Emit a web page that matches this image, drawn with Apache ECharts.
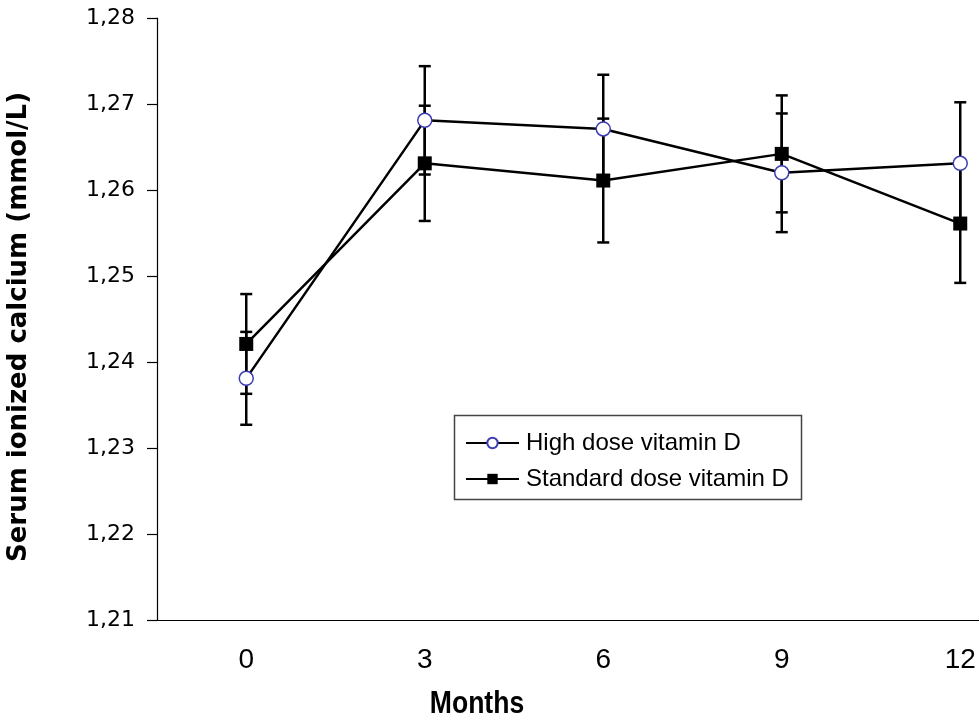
<!DOCTYPE html>
<html>
<head>
<meta charset="utf-8">
<script src="https://cdn.jsdelivr.net/npm/echarts@6/dist/echarts.min.js"></script>
<style>html,body{margin:0;padding:0;background:#fff}#c{width:979px;height:715px}</style>
</head>
<body>
<div id="c"></div>
<script>
var months = ['0', '3', '6', '9', '12'];
var yTicks = { min: 1.21, max: 1.28, interval: 0.01 };
var highDose = [1.2381, 1.2681, 1.2671, 1.2620, 1.2631];
var highDoseErr = [0.0054, 0.0063, 0.0063, 0.0069, 0.0071];
var stdDose = [1.2421, 1.2631, 1.2611, 1.2642, 1.2561];
var stdDoseErr = [0.0058, 0.0067, 0.0072, 0.0068, 0.0069];
var seriesNames = ['High dose vitamin D', 'Standard dose vitamin D'];

function errData(vals, errs) {
  return vals.map(function (v, i) { return [i, v - errs[i], v + errs[i]]; });
}
function renderErr(params, api) {
  var i = api.value(0);
  var lo = api.coord([i, api.value(1)]);
  var hi = api.coord([i, api.value(2)]);
  var hw = 6;
  var st = { stroke: '#000', lineWidth: 2.5 };
  return {
    type: 'group',
    children: [
      { type: 'line', shape: { x1: hi[0], y1: hi[1], x2: lo[0], y2: lo[1] }, style: st },
      { type: 'line', shape: { x1: hi[0] - hw, y1: hi[1], x2: hi[0] + hw, y2: hi[1] }, style: st },
      { type: 'line', shape: { x1: lo[0] - hw, y1: lo[1], x2: lo[0] + hw, y2: lo[1] }, style: st }
    ]
  };
}

var chart = echarts.init(document.getElementById('c'), null, { renderer: 'canvas' });
chart.setOption({
  animation: false,
  backgroundColor: '#fff',
  grid: { left: 157, top: 18, width: 892.5, bottom: 95, outerBoundsMode: 'none', containLabel: false },
  xAxis: {
    type: 'category',
    data: months,
    boundaryGap: true,
    axisLine: { lineStyle: { color: '#000', width: 1.2 } },
    axisTick: { length: 8, lineStyle: { color: '#000', width: 1.2 } },
    axisLabel: { margin: 26, color: '#000', fontSize: 28, fontFamily: "'Liberation Sans', Arial, sans-serif" },
    splitLine: { show: false }
  },
  yAxis: {
    type: 'value',
    min: yTicks.min, max: yTicks.max, interval: yTicks.interval,
    axisLine: { show: true, lineStyle: { color: '#000', width: 1.2 } },
    axisTick: { show: true, length: 10, lineStyle: { color: '#000', width: 1.2 } },
    axisLabel: {
      margin: 22, color: '#000', fontSize: 22, fontFamily: "'DejaVu Sans', sans-serif",
      formatter: function (v) { return v.toFixed(2).replace('.', ','); }
    },
    splitLine: { show: false }
  },
  legend: {
    orient: 'vertical',
    left: 452, top: 413,
    padding: [18, 8, 8, 13],
    itemGap: 12,
    itemWidth: 53, itemHeight: 13,
    textStyle: { color: '#000', fontSize: 24, fontFamily: "'Liberation Sans', Arial, sans-serif", padding: [0, 0, 0, 2] },
    data: seriesNames
  },
  graphic: [
    { type: 'rect', left: 452, top: 413, shape: { width: 347, height: 84 }, style: { fill: 'none', stroke: '#444', lineWidth: 1.5 }, z: 100 },
    { type: 'text', x: 19, y: 327, rotation: Math.PI / 2,
      style: { text: 'Serum ionized calcium (mmol/L)', fill: '#000', font: "bold 26px 'DejaVu Sans', sans-serif", align: 'center', verticalAlign: 'middle' } },
    { type: 'text', x: 477, y: 688, scaleX: 0.83,
      style: { text: 'Months', fill: '#000', font: "bold 32px 'Liberation Sans', Arial, sans-serif", align: 'center', verticalAlign: 'top' } }
  ],
  series: [
    { type: 'custom', name: 'errHigh', renderItem: renderErr, encode: { x: 0, y: [1, 2] }, data: errData(highDose, highDoseErr), z: 1, silent: true },
    { type: 'custom', name: 'errStd', renderItem: renderErr, encode: { x: 0, y: [1, 2] }, data: errData(stdDose, stdDoseErr), z: 1, silent: true },
    {
      type: 'line', name: seriesNames[0], data: highDose, z: 3,
      symbol: 'circle', symbolSize: 14, showAllSymbol: true,
      lineStyle: { color: '#000', width: 2.5 },
      itemStyle: { color: '#fff', borderColor: '#3c3cb4', borderWidth: 1.5 }
    },
    {
      type: 'line', name: seriesNames[1], data: stdDose, z: 3,
      symbol: 'rect', symbolSize: 14, showAllSymbol: true,
      lineStyle: { color: '#000', width: 2.5 },
      itemStyle: { color: '#000', borderColor: '#000', borderWidth: 0 }
    }
  ]
});
</script>
</body>
</html>
